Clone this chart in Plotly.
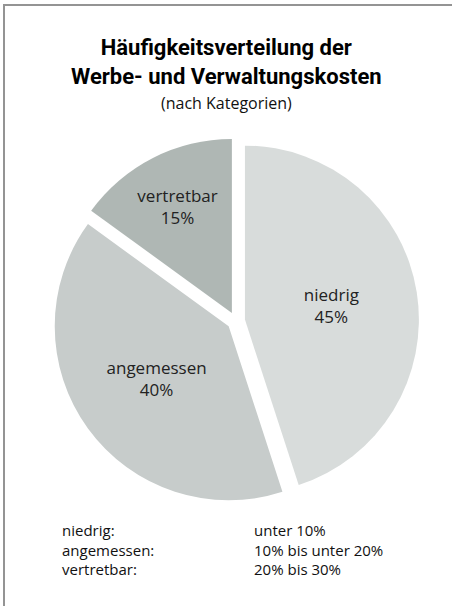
import plotly.graph_objects as go

# Data
categories = ["niedrig", "angemessen", "vertretbar"]
shares = [45, 40, 15]
ranges = ["unter 10%", "10% bis unter 20%", "20% bis 30%"]
slice_colors = ["#d8dcdb", "#c7cccb", "#afb7b4"]

W, H = 452, 606
title_font = "Roboto, 'Noto Sans', sans-serif"
text_font = "'Open Sans', 'Noto Sans', sans-serif"

fig = go.Figure(
    go.Pie(
        labels=categories,
        values=shares,
        sort=False,
        direction="clockwise",
        rotation=0,
        pull=[0.052, 0.052, 0.052],
        marker=dict(colors=slice_colors, line=dict(width=0)),
        texttemplate="%{label}<br>%{percent:.0%}",
        textposition="inside",
        insidetextorientation="horizontal",
        insidetextfont=dict(family=text_font, size=17, color="#222222"),
        hoverinfo="label+percent",
        domain=dict(x=[53 / W, 419 / W], y=[(H - 504) / H, (H - 138) / H]),
        showlegend=False,
    )
)

annotations = [
    dict(
        text="<b>Häufigkeitsverteilung der<br>Werbe- und Verwaltungskosten</b>",
        x=0.5, y=1 - 62 / H, xref="paper", yref="paper",
        xanchor="center", yanchor="middle", showarrow=False,
        font=dict(family=title_font, size=22, color="#000000"),
    ),
    dict(
        text="(nach Kategorien)",
        x=0.5, y=1 - 103 / H, xref="paper", yref="paper",
        xanchor="center", yanchor="middle", showarrow=False,
        font=dict(family=text_font, size=16, color="#111111"),
    ),
    # explanation of the categories below the pie, two columns
    dict(
        text="<br>".join(c + ":" for c in categories),
        x=60 / W, y=1 - 549 / H, xref="paper", yref="paper",
        xanchor="left", yanchor="middle", align="left", showarrow=False,
        font=dict(family=text_font, size=15, color="#111111"),
    ),
    dict(
        text="<br>".join(ranges),
        x=252 / W, y=1 - 549 / H, xref="paper", yref="paper",
        xanchor="left", yanchor="middle", align="left", showarrow=False,
        font=dict(family=text_font, size=15, color="#111111"),
    ),
]

# frame: only top and left edges visible
shapes = [
    dict(type="line", xref="paper", yref="paper",
         x0=3 / W, x1=1, y0=1 - 5 / H, y1=1 - 5 / H,
         line=dict(color="#949494", width=2)),
    dict(type="line", xref="paper", yref="paper",
         x0=4 / W, x1=4 / W, y0=0, y1=1 - 4 / H,
         line=dict(color="#949494", width=2)),
]

fig.update_layout(
    width=W,
    height=H,
    autosize=False,
    margin=dict(l=0, r=0, t=0, b=0),
    paper_bgcolor="white",
    plot_bgcolor="white",
    annotations=annotations,
    shapes=shapes,
)

# remove the default page margin so the figure sits flush in the window
fig.write_html(
    "out.html",
    config={"displayModeBar": False},
    post_script="document.body.style.margin='0';document.body.style.overflow='hidden';",
)
